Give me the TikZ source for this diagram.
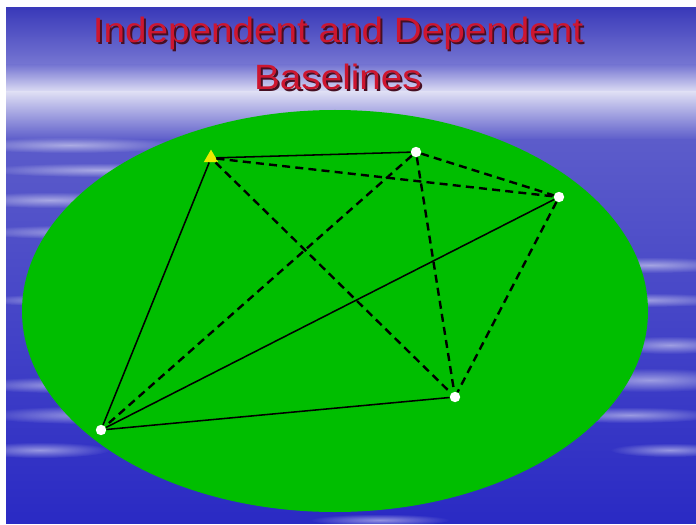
\documentclass[tikz,border=0pt]{standalone}
\usepackage{fontspec}
\setmainfont{Liberation Sans}
\newfontfamily\titlefont[FakeStretch=1.1]{Liberation Sans}
\usetikzlibrary{shapes.geometric}
\usetikzlibrary{fadings}

\definecolor{skytop}{RGB}{58,58,185}
\definecolor{skyband}{RGB}{222,222,244}
\definecolor{skymid}{RGB}{92,92,202}
\definecolor{skylow}{RGB}{42,42,196}
\definecolor{fieldgreen}{RGB}{0,190,0}
\definecolor{titlered}{RGB}{205,22,48}
\definecolor{titleshade}{RGB}{70,15,35}
\definecolor{refyellow}{RGB}{235,235,0}

\tikzfading[name=softstreak,inner color=transparent!10,outer color=transparent!100]

% red title with a dark drop shadow
\newcommand{\shadowtitle}[1]{\rlap{\hspace{1.4pt}\raisebox{-1.4pt}{\textcolor{titleshade}{#1}}}\textcolor{titlered}{#1}}

\tikzset{
  station/.style={circle,fill=white,inner sep=0pt,minimum size=0.26cm},
  refstation/.style={regular polygon,regular polygon sides=3,fill=refyellow,inner sep=0pt,minimum size=0.42cm},
  indep/.style={black,line width=1.1pt},
  dep/.style={black,line width=1.7pt,dash pattern=on 0.2cm off 0.13cm},
  titletext/.style={font=\titlefont\fontsize{25}{30}\selectfont,anchor=base}
}

\begin{document}
\begin{tikzpicture}[x=0.025cm,y=-0.025cm]
\useasboundingbox (0,0) rectangle (696,525);
\fill[white] (0,0) rectangle (696,525);
% sky
\shade[top color=skytop,bottom color=skymid!80!skyband] (6,8) rectangle (696,65);
\shade[top color=skymid!80!skyband,bottom color=skyband] (6,65) rectangle (696,92);
\shade[top color=skyband,bottom color=skymid] (6,92) rectangle (696,140);
\shade[top color=skymid,bottom color=skylow] (6,140) rectangle (696,523);
% streaks
\foreach \cx/\cy/\rx/\ry in {70/145/110/8, 100/170/120/7, 50/200/90/8, 80/232/110/7,
    130/265/100/6, 60/300/80/6, 60/385/90/8, 90/415/110/9, 40/450/70/8,
    650/265/90/8, 640/300/100/7, 670/345/70/9, 650/380/100/12, 630/415/90/8,
    670/450/60/7, 560/545/90/10, 380/520/70/6}
  \fill[white,opacity=0.55,path fading=softstreak]
    (\cx,\cy) ellipse [x radius=\rx, y radius=\ry];
% field
\fill[fieldgreen] (335,311) ellipse [x radius=313, y radius=201];

% title
\node[titletext] (title1) at (338,43) {\shadowtitle{Independent and Dependent}};
\node[titletext] (title2) at (338,90) {\shadowtitle{Baselines}};

% stations
\node[refstation] (ref) at (211,158) {};
\node[station] (stnN) at (416,152) {};
\node[station] (stnE) at (559,197) {};
\node[station] (stnS) at (455,397) {};
\node[station] (stnW) at (101,430) {};

% independent baselines
\draw[indep] (ref) -- (stnN);
\draw[indep] (ref) -- (stnW);
\draw[indep] (stnW) -- (stnE);
\draw[indep] (stnW) -- (stnS);
% dependent baselines
\draw[dep] (ref) -- (stnE);
\draw[dep] (ref) -- (stnS);
\draw[dep] (stnN) -- (stnW);
\draw[dep] (stnN) -- (stnE);
\draw[dep] (stnN) -- (stnS);
\draw[dep] (stnE) -- (stnS);

\end{tikzpicture}
\end{document}
